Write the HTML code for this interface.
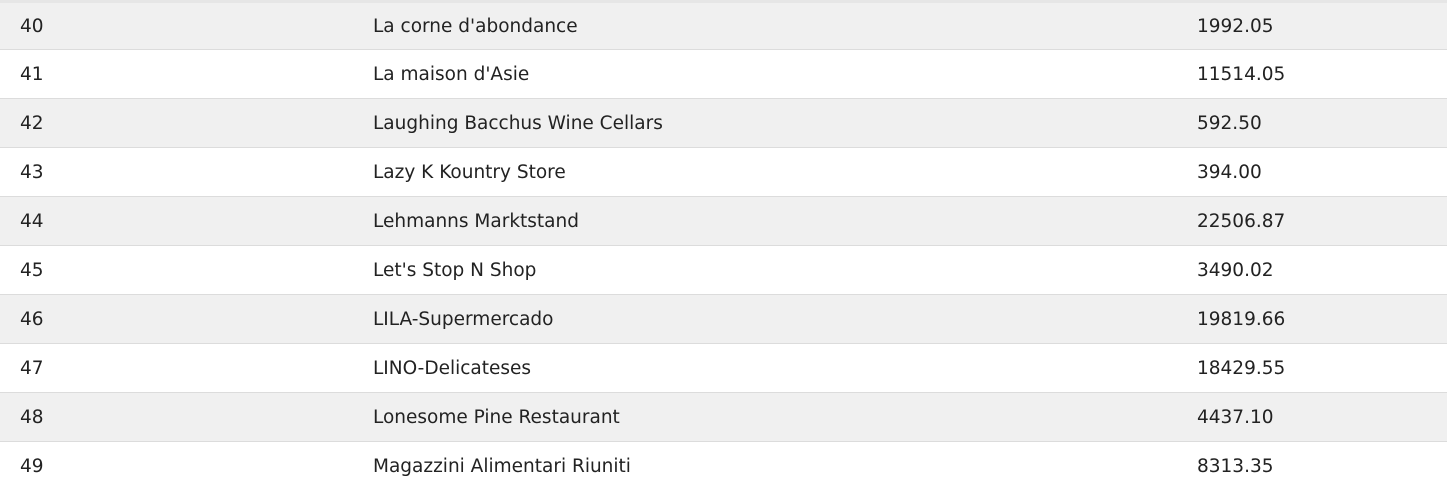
<!DOCTYPE html>
<html><head><meta charset="utf-8"><style>
html,body{margin:0;padding:0;background:#fff;width:1447px;height:486px;overflow:hidden}
table{border-collapse:collapse;table-layout:fixed;width:1447px;border-top:3px solid #e6e6e6;font-family:"DejaVu Sans","Liberation Sans",sans-serif;font-size:18.5px;color:#222}
td{height:49px;padding:0;box-sizing:border-box;border-bottom:1px solid #dcdcdc;vertical-align:middle;white-space:nowrap}
tr:first-child td{height:48px}
tr:nth-child(odd){background:#f0f0f0}
td.c1{padding-left:20px;width:373px}
td.c2{width:824px}
td.c3{}
</style></head><body>
<table>
<colgroup><col style="width:373px"><col style="width:824px"><col></colgroup>
<tbody>
<tr><td class="c1">40</td><td class="c2">La corne d'abondance</td><td class="c3">1992.05</td></tr>
<tr><td class="c1">41</td><td class="c2">La maison d'Asie</td><td class="c3">11514.05</td></tr>
<tr><td class="c1">42</td><td class="c2">Laughing Bacchus Wine Cellars</td><td class="c3">592.50</td></tr>
<tr><td class="c1">43</td><td class="c2">Lazy K Kountry Store</td><td class="c3">394.00</td></tr>
<tr><td class="c1">44</td><td class="c2">Lehmanns Marktstand</td><td class="c3">22506.87</td></tr>
<tr><td class="c1">45</td><td class="c2">Let's Stop N Shop</td><td class="c3">3490.02</td></tr>
<tr><td class="c1">46</td><td class="c2">LILA-Supermercado</td><td class="c3">19819.66</td></tr>
<tr><td class="c1">47</td><td class="c2">LINO-Delicateses</td><td class="c3">18429.55</td></tr>
<tr><td class="c1">48</td><td class="c2">Lonesome Pine Restaurant</td><td class="c3">4437.10</td></tr>
<tr><td class="c1">49</td><td class="c2">Magazzini Alimentari Riuniti</td><td class="c3">8313.35</td></tr>
</tbody></table>
</body></html>
